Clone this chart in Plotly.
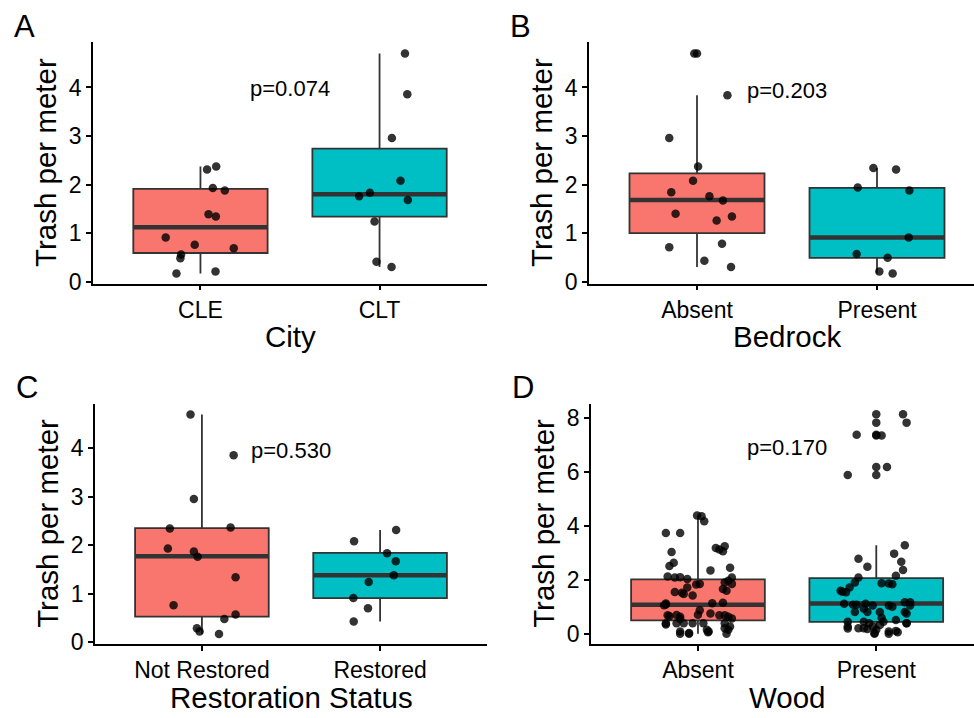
import plotly.graph_objects as go

# ---------------- DATA ----------------
city_labels = ["CLE", "CLT"]
cle_vals = [2.31, 2.37, 1.93, 1.88, 1.39, 1.34, 0.91, 0.76, 0.69, 0.56, 0.48, 0.17, 0.21]
cle_jit = [0.037, 0.088, 0.069, 0.136, 0.045, 0.086, -0.194, -0.032, 0.186, -0.108, -0.112, -0.134, 0.084]
clt_vals = [4.70, 3.86, 2.96, 2.08, 1.76, 1.83, 1.68, 1.24, 0.41, 0.30]
clt_jit = [0.142, 0.155, 0.069, 0.117, -0.114, -0.054, 0.158, -0.028, -0.017, 0.067]
city_stats = {"q1": [0.59, 1.34], "med": [1.12, 1.80], "q3": [1.91, 2.74],
              "lo": [0.17, 0.30], "hi": [2.37, 4.70]}

bed_labels = ["Absent", "Present"]
bedA_vals = [4.70, 3.84, 2.96, 2.37, 2.08, 1.84, 1.76, 1.67, 1.40, 1.34, 1.26, 0.71, 0.78, 0.43, 0.30]
bedA_jit = [-0.015, 0.169, -0.154, 0.006, -0.022, -0.143, 0.069, 0.144, -0.119, 0.194, 0.109, -0.154, 0.139, 0.041, 0.189]
bedP_vals = [2.34, 2.31, 1.94, 1.88, 0.91, 0.57, 0.49, 0.21, 0.17]
bedP_jit = [-0.020, 0.106, -0.107, 0.180, 0.176, -0.113, 0.059, 0.013, 0.087]
bed_stats = {"q1": [1.00, 0.49], "med": [1.68, 0.91], "q3": [2.23, 1.93],
             "lo": [0.30, 0.17], "hi": [3.84, 2.34]}

rest_labels = ["Not Restored", "Restored"]
notr_vals = [4.69, 3.85, 2.95, 2.34, 2.36, 1.93, 1.87, 1.76, 1.34, 0.76, 0.57, 0.48, 0.29, 0.22, 0.17]
notr_jit = [-0.064, 0.178, -0.045, -0.180, 0.161, -0.191, -0.045, -0.024, 0.189, -0.159, 0.189, 0.126, -0.028, -0.013, 0.096]
rest_vals = [2.31, 2.08, 1.83, 1.67, 1.38, 1.24, 0.91, 0.70, 0.43]
rest_jit = [0.090, -0.146, 0.039, 0.088, 0.077, -0.064, -0.150, -0.068, -0.148]
rest_stats = {"q1": [0.53, 0.91], "med": [1.77, 1.38], "q3": [2.35, 1.84],
              "lo": [0.17, 0.43], "hi": [4.69, 2.31]}

wood_labels = ["Absent", "Present"]
woodA_vals = [4.38, 4.35, 4.17, 3.73, 3.73, 3.24, 3.18, 3.12, 3.06, 3.03, 2.63, 2.51, 2.45, 2.35,
              2.12, 2.09, 2.10, 2.03, 2.09, 1.97, 1.85, 1.83, 1.85, 1.72, 1.60, 1.55, 1.48, 1.52,
              1.42, 1.66, 1.90, 1.12, 1.06, 1.13, 1.15, 0.69, 0.70, 0.63, 0.87, 0.71, 0.75, 0.69,
              0.69, 0.63, 0.57, 0.39, 0.39, 0.39, 0.39, 0.39, 0.39, 0.27, 0.15, 0.09, 0.03, 0.09,
              0.35, 0.00, 0.00, 0.06, 0.00, 1.09, 0.65, 0.55, 0.21, 0.15]
woodA_jit = [-0.005, 0.020, 0.035, -0.180, -0.100, 0.150, 0.100, 0.120, 0.140, -0.148, -0.136, -0.160, 0.180, 0.070,
             -0.170, -0.130, -0.100, -0.060, 0.190, 0.170, 0.010, -0.010, 0.190, -0.060, 0.160, -0.130, -0.080, -0.090,
             -0.030, 0.140, 0.150, -0.180, -0.190, 0.080, 0.140, -0.170, -0.120, -0.100, 0.010, 0.000, 0.070, 0.120,
             0.150, 0.170, 0.190, -0.180, -0.120, -0.080, -0.030, 0.030, 0.150, 0.180, 0.170, -0.100, -0.050, 0.060,
             -0.180, -0.100, -0.050, 0.056, 0.160, -0.180, -0.160, -0.100, 0.150, 0.050]
woodP_vals = [8.13, 7.82, 7.37, 7.34, 6.18, 5.88, 3.28, 2.97, 2.67, 2.36, 2.78, 2.48, 2.15, 1.84,
              2.09, 1.90, 1.72, 1.54, 1.56, 1.87, 1.86, 1.11, 1.08, 1.08, 1.11, 1.05, 1.05, 1.17,
              1.17, 1.05, 0.81, 0.75, 0.93, 0.81, 0.81, 0.81, 0.51, 0.39, 0.45, 0.27, 0.21, 0.45,
              0.39, 0.27, 0.15, 0.18, 0.21, 0.03, 0.33, 0.45, 0.09, 0.11, 0.00, 0.00, 0.06, 0.60,
              1.00, 0.39, 0.20, 1.60]
woodP_jit = [0.150, 0.170, -0.110, 0.030, 0.060, -0.160, 0.160, 0.100, 0.140, 0.150, -0.100, -0.050, 0.110, 0.090,
             -0.100, -0.120, -0.150, -0.170, -0.190, 0.030, 0.070, -0.180, -0.130, -0.110, -0.060, -0.020, 0.070, 0.160,
             0.190, 0.190, 0.160, 0.170, -0.070, -0.050, 0.020, -0.120, 0.110, 0.170, -0.160, -0.160, -0.100, -0.070,
             -0.040, -0.020, 0.000, -0.050, -0.070, -0.010, 0.020, 0.040, 0.070, 0.110, -0.010, 0.070, 0.120, 0.030,
             0.090, 0.170, -0.160, -0.200]
wood_stats = {"q1": [0.50, 0.44], "med": [1.08, 1.12], "q3": [2.02, 2.06],
              "lo": [0.00, 0.00], "hi": [4.38, 3.28]}

p_texts = ["p=0.074", "p=0.203", "p=0.530", "p=0.170"]
p_y = [3.98, 3.94, 3.95, 6.91]
x_titles = ["City", "Bedrock", "Restoration Status", "Wood"]
panel_letters = ["A", "B", "C", "D"]
y_title = "Trash per meter"

# ---------------- LAYOUT CONSTANTS ----------------
W, H = 974, 718
FONT = "Liberation Sans, Arial, Helvetica, sans-serif"
FILL = ["#F8766D", "#00BFC4"]
EDGE = "#333333"
PT = "rgba(0,0,0,0.8)"
BOXW = 0.75
MSIZE = 8.5

panels = [
    dict(px=(93, 487, 43, 288), xr=[0.4, 2.6], yr=[-0.04, 4.93], yt=[0, 1, 2, 3, 4],
         labels=city_labels, groups=[(cle_vals, cle_jit), (clt_vals, clt_jit)], stats=city_stats),
    dict(px=(589, 974, 43, 288), xr=[0.4, 0.4 + 385 / 180.0], yr=[-0.04, 4.93], yt=[0, 1, 2, 3, 4],
         labels=bed_labels, groups=[(bedA_vals, bedA_jit), (bedP_vals, bedP_jit)], stats=bed_stats),
    dict(px=(95, 487, 410, 654), xr=[0.4, 2.6], yr=[-0.035, 4.91], yt=[0, 1, 2, 3, 4],
         labels=rest_labels, groups=[(notr_vals, notr_jit), (rest_vals, rest_jit)], stats=rest_stats),
    dict(px=(591, 974, 410, 654), xr=[0.4, 0.4 + 383 / 178.3], yr=[-0.375, 8.52], yt=[0, 2, 4, 6, 8],
         labels=wood_labels, groups=[(woodA_vals, woodA_jit), (woodP_vals, woodP_jit)], stats=wood_stats),
]

fig = go.Figure()
annotations = []
layout_axes = {}

for i, p in enumerate(panels):
    n = "" if i == 0 else str(i + 1)
    xa, ya = "x" + n, "y" + n
    L, R, T, B = p["px"]
    st = p["stats"]
    for g, (vals, jit) in enumerate(p["groups"]):
        c = g + 1
        fig.add_trace(go.Box(
            x=[c], q1=[st["q1"][g]], median=[st["med"][g]], q3=[st["q3"][g]],
            lowerfence=[st["lo"][g]], upperfence=[st["hi"][g]],
            width=BOXW, orientation="v", fillcolor=FILL[g],
            line=dict(color=EDGE, width=1.8), whiskerwidth=0, boxpoints=False,
            xaxis=xa, yaxis=ya, showlegend=False, hoverinfo="skip"))
        fig.add_trace(go.Scatter(
            x=[c - BOXW / 2, c + BOXW / 2], y=[st["med"][g]] * 2, mode="lines",
            line=dict(color=EDGE, width=4.5), xaxis=xa, yaxis=ya,
            showlegend=False, hoverinfo="skip"))
        outl = [v for v in vals if v > st["hi"][g] + 1e-9 or v < st["lo"][g] - 1e-9]
        if outl:
            fig.add_trace(go.Scatter(
                x=[c] * len(outl), y=outl, mode="markers",
                marker=dict(color=PT, size=MSIZE, line=dict(width=0)),
                xaxis=xa, yaxis=ya, showlegend=False, hoverinfo="skip"))
        fig.add_trace(go.Scatter(
            x=[c + j for j in jit], y=vals, mode="markers",
            marker=dict(color=PT, size=MSIZE, line=dict(width=0)),
            xaxis=xa, yaxis=ya, showlegend=False))

    axis_common = dict(showgrid=False, zeroline=False, showline=True, linecolor="black",
                       linewidth=1.6, ticks="outside", ticklen=5, tickwidth=1.6,
                       tickcolor="black", tickfont=dict(family=FONT, size=23, color="black"))
    layout_axes["xaxis" + n] = dict(axis_common, domain=[L / W, R / W], range=p["xr"],
                                    anchor=ya, tickmode="array", tickvals=[1, 2],
                                    ticktext=p["labels"])
    layout_axes["yaxis" + n] = dict(axis_common, domain=[1 - B / H, 1 - T / H], range=p["yr"],
                                    anchor=xa, tickmode="array", tickvals=p["yt"],
                                    ticktext=[str(v) for v in p["yt"]])

    annotations.append(dict(x=1.5, y=p_y[i], xref=xa, yref=ya, text=p_texts[i],
                            showarrow=False, xanchor="center", yanchor="middle",
                            font=dict(family=FONT, size=22, color="black")))
    full_right = L + (R - L) * (2.2 / (p["xr"][1] - p["xr"][0]))
    annotations.append(dict(x=((L + full_right) / 2) / W, y=1 - (B + 54) / H, xref="paper",
                            yref="paper", text=x_titles[i], showarrow=False,
                            xanchor="center", yanchor="middle",
                            font=dict(family=FONT, size=29.5, color="black")))
    annotations.append(dict(x=(L - 47) / W, y=1 - ((T + B) / 2) / H, xref="paper",
                            yref="paper", text=y_title, showarrow=False, textangle=-90,
                            xanchor="center", yanchor="middle",
                            font=dict(family=FONT, size=29.5, color="black")))
    annotations.append(dict(x=(L - 81) / W, y=1 - (T - 16) / H, xref="paper", yref="paper",
                            text=panel_letters[i], showarrow=False, xanchor="left",
                            yanchor="middle", font=dict(family=FONT, size=31, color="black")))

fig.update_layout(
    width=W, height=H, autosize=False, margin=dict(l=0, r=0, t=0, b=0),
    paper_bgcolor="white", plot_bgcolor="white", boxmode="overlay",
    showlegend=False, annotations=annotations, **layout_axes)

page_fix = """
document.documentElement.style.margin='0';
document.body.style.margin='0';
document.body.style.padding='0';
var gd = document.getElementById('{plot_id}');
gd.style.position = 'fixed';
gd.style.left = '0px';
gd.style.top = '0px';
try {
  var vw = window.innerWidth, vh = window.innerHeight;
  if (vh > 600 && vh < 900 && vw > 900 && vw < 1100 && (vh !== 718 || vw !== 974)) {
    gd.style.width = vw + 'px';
    gd.style.height = vh + 'px';
    Plotly.relayout(gd, {width: vw, height: vh});
  }
} catch (e) {}
"""
fig.write_html("out.html", config={"displayModeBar": False}, post_script=page_fix)
